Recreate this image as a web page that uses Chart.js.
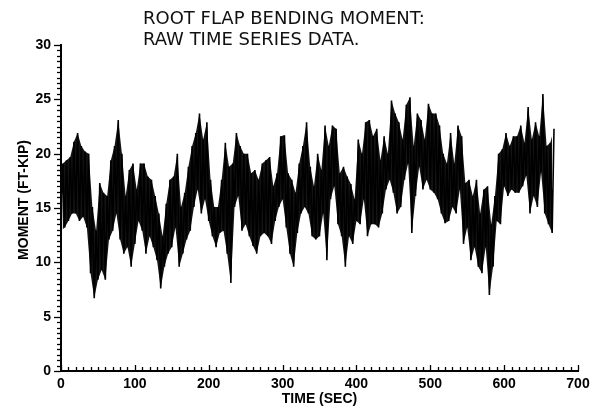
<!DOCTYPE html>
<html>
<head>
<meta charset="utf-8">
<script src="https://cdn.jsdelivr.net/npm/chart.js@4/dist/chart.umd.min.js"></script>
<style>
html,body{margin:0;padding:0;background:#fff;}
#wrap{width:605px;height:411px;}
</style>
</head>
<body>
<div id="wrap"><canvas id="c" width="605" height="411"></canvas></div>
<script>
// Title lines
const titleLines = ["ROOT FLAP BENDING MOMENT:", "RAW TIME SERIES DATA."];
const xTitle = "TIME (SEC)";
const yTitle = "MOMENT (FT-KIP)";

// Sample times (sec)
const times = [0,5,10,15,20,25,30,35,40,45,50,55,60,65,70,75,80,85,90,95,
100,105,110,115,120,125,130,135,140,145,150,155,160,165,170,175,180,185,190,195,
200,205,210,215,220,225,230,235,240,245,250,255,260,265,270,275,280,285,290,295,
300,305,310,315,320,325,330,335,340,345,350,355,360,365,370,375,380,385,390,395,
400,405,410,415,420,425,430,435,440,445,450,455,460,465,470,475,480,485,490,495,
500,505,510,515,520,525,530,535,540,545,550,555,560,565,570,575,580,585,590,595,
600,605,610,615,620,625,630,635,640,645,650,655,660,665];

// Local peaks (ft-kip)
const peaks = [19.1,19.4,19.7,21.1,21.9,20.7,20.2,20.0,15.1,12.9,17.3,16.4,16.1,19.4,20.7,23.1,20.0,16.1,18.5,19.1,
16.7,19.1,19.1,17.9,17.6,16.1,14.5,12.4,15.4,17.6,17.9,20.0,15.1,16.4,18.8,20.7,21.9,23.7,21.3,22.9,
17.6,15.1,15.1,17.6,21.0,18.8,19.1,21.9,20.7,20.0,20.0,18.2,18.5,17.6,19.1,19.4,19.7,17.0,18.2,21.6,
21.7,18.2,17.6,16.4,19.1,20.7,22.9,18.8,17.0,20.0,18.5,22.6,20.7,22.6,22.3,18.2,18.8,17.9,17.2,15.8,
21.3,20.0,22.9,23.1,21.6,22.3,19.4,21.6,20.0,24.9,23.7,22.9,21.3,24.5,25.2,20.7,23.7,23.1,21.3,24.6,
23.7,23.7,22.6,20.0,19.1,21.9,19.1,22.6,21.6,17.3,17.6,16.1,17.6,14.5,16.7,17.0,13.5,16.1,20.0,20.4,
21.9,20.7,21.6,21.6,22.6,21.0,24.3,21.3,22.9,21.6,25.5,20.7,21.0,22.3];

// Local troughs (ft-kip)
const troughs = [12.9,13.2,13.8,14.5,14.5,13.8,14.2,13.2,9.0,6.7,8.4,9.3,8.4,12.1,12.9,14.5,12.1,10.8,11.4,9.6,
11.7,13.8,12.9,10.8,12.4,11.4,10.2,7.6,9.6,10.8,11.4,13.2,9.6,10.8,12.1,12.9,15.1,16.7,14.5,15.8,
13.8,12.4,11.4,12.7,12.9,10.8,8.1,15.1,16.1,12.9,13.5,12.4,11.5,10.8,12.4,12.7,12.4,11.7,13.8,15.1,
15.8,13.2,10.8,9.6,12.7,14.5,15.1,14.5,12.4,12.1,12.4,14.5,10.2,15.8,17.0,13.5,12.4,9.6,12.4,11.7,
13.8,13.5,15.8,12.4,13.5,13.5,13.2,14.5,16.7,17.6,16.4,14.5,15.1,17.6,19.1,12.7,16.1,18.8,16.7,17.6,
16.7,16.4,15.8,14.5,13.6,13.8,15.1,14.5,16.7,11.7,13.2,10.2,11.4,9.6,9.0,11.4,7.0,9.6,13.8,13.5,
17.0,16.1,16.7,16.4,16.4,17.0,18.0,14.5,16.1,15.1,18.3,14.5,13.5,12.7];

// Axis ranges / tick steps
const xRange = [0, 700];
const yRange = [0, 30];
const xMajorStep = 100, xMinorStep = 10;
const yMajorStep = 5, yMinorStep = 0.5;

// Build the trace: trough at each sample time, peak half a step later
const trace = [], upper = [], lower = [];
for (let i = 0; i < times.length; i++) {
  const nextT = i + 1 < times.length ? times[i + 1] : times[i] + 5;
  const tp = (times[i] + nextT) / 2;
  trace.push({x: times[i], y: troughs[i]});
  trace.push({x: tp, y: peaks[i]});
  lower.push({x: times[i], y: troughs[i]});
  upper.push({x: tp, y: peaks[i]});
}

const tickFont = {family: "'Liberation Sans', Arial, sans-serif", size: 14, weight: 'bold'};

const decor = {
  id: 'decor',
  afterDraw(chart) {
    const ctx = chart.ctx;
    const xs = chart.scales.x, ys = chart.scales.y;
    const area = chart.chartArea;
    ctx.save();
    ctx.strokeStyle = '#000';
    ctx.lineWidth = 1.3;
    for (let v = yRange[0]; v <= yRange[1] + 1e-9; v += yMinorStep) {
      const py = Math.round(ys.getPixelForValue(v)) + 0.5;
      const major = Math.abs(v / yMajorStep - Math.round(v / yMajorStep)) < 1e-6;
      ctx.beginPath();
      ctx.moveTo(area.left, py);
      ctx.lineTo(area.left - (major ? 7 : 4), py);
      ctx.stroke();
    }
    for (let v = xRange[0]; v <= xRange[1] + 1e-9; v += xMinorStep) {
      const px = Math.round(xs.getPixelForValue(v)) + 0.5;
      const major = Math.abs(v / xMajorStep - Math.round(v / xMajorStep)) < 1e-6;
      ctx.beginPath();
      ctx.moveTo(px, area.bottom);
      ctx.lineTo(px, area.bottom - (major ? 6 : 4));
      ctx.stroke();
    }
    ctx.fillStyle = '#111';
    ctx.font = "18px 'DejaVu Sans', sans-serif";
    ctx.textBaseline = 'alphabetic';
    ctx.textAlign = 'left';
    ctx.fillText(titleLines[0], 143, 24);
    ctx.fillText(titleLines[1], 143, 45);
    ctx.fillStyle = '#000';
    ctx.font = "bold 14px 'Liberation Sans', Arial, sans-serif";
    ctx.textAlign = 'center';
    ctx.textBaseline = 'middle';
    ctx.translate(24, 200);
    ctx.rotate(-Math.PI / 2);
    ctx.fillText(yTitle, 0, 0);
    ctx.restore();
  }
};

new Chart(document.getElementById('c'), {
  type: 'line',
  data: {
    datasets: [
      {data: upper, borderWidth: 0, borderColor: 'rgba(0,0,0,0)', pointRadius: 0, tension: 0, fill: false, order: 3},
      {data: lower, borderWidth: 0, borderColor: 'rgba(0,0,0,0)', backgroundColor: '#141414', pointRadius: 0, tension: 0, fill: '-1', order: 2},
      {data: trace, borderColor: '#000', borderWidth: 1.6, pointRadius: 0, tension: 0, fill: false, order: 1}
    ]
  },
  options: {
    responsive: false,
    animation: false,
    events: [],
    layout: {padding: {left: 0, right: 27, top: 45, bottom: 0}},
    plugins: {legend: {display: false}, tooltip: {enabled: false}, title: {display: false}, filler: {propagate: false}},
    scales: {
      x: {
        type: 'linear',
        min: xRange[0], max: xRange[1],
        afterFit(s) { s.height = 40; },
        border: {display: true, color: '#000', width: 2},
        grid: {display: true, drawOnChartArea: false, drawTicks: false},
        ticks: {stepSize: xMajorStep, color: '#000', font: tickFont, padding: 5, maxRotation: 0},
        title: {display: true, text: xTitle, color: '#000', font: tickFont, padding: {top: 0, bottom: 3}}
      },
      y: {
        type: 'linear',
        min: yRange[0], max: yRange[1],
        afterFit(s) { s.width = 61; },
        border: {display: true, color: '#000', width: 2},
        grid: {display: true, drawOnChartArea: false, drawTicks: false},
        ticks: {stepSize: yMajorStep, color: '#000', font: tickFont, padding: 10},
        title: {display: false}
      }
    }
  },
  plugins: [decor]
});
</script>
</body>
</html>
